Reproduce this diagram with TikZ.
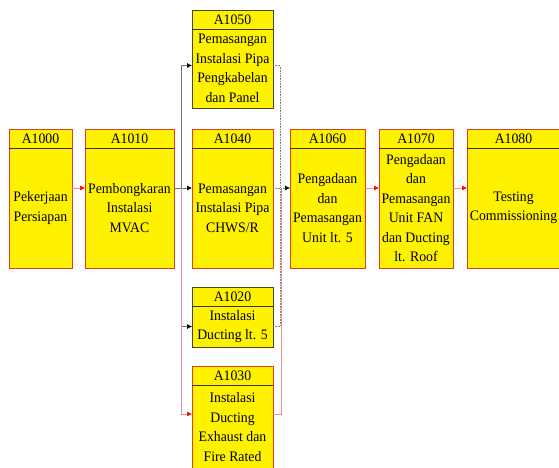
\documentclass[tikz,border=0pt]{standalone}
\usepackage{fontspec}
\setmainfont{Liberation Serif}[FakeStretch=0.95]
\usetikzlibrary{positioning,arrows.meta}

\definecolor{boxred}{RGB}{222,62,32}
\definecolor{boxdark}{RGB}{72,72,32}
\definecolor{linepink}{RGB}{236,140,150}

\begin{document}
\begin{tikzpicture}[x=1pt,y=1pt,
	node distance=0pt,
	hdr/.style={draw=#1, fill=yellow, minimum height=19pt, inner sep=0pt, outer sep=0pt},
	hdr/.default=boxred,
	bdy/.style={draw=#1, fill=yellow, align=center, inner sep=0pt, outer sep=0pt},
	bdy/.default=boxred,
	sep/.style={draw=black!80, line width=0.8pt},
	blk/.style={draw=black!55, line width=0.6pt, -{Latex[length=5pt,width=5pt,color=black]}},
	rd/.style={draw=linepink, line width=0.6pt, -{Latex[length=5pt,width=5pt,color=red]}},
	dot/.style={draw=black!50, densely dotted, line width=0.6pt},
	font=\fontsize{14.5}{19.5}\selectfont, line width=1pt
	]
	\clip (0,0) rectangle (559,-467);
	
	% main row
	\node[hdr, minimum width=63pt] (h1000) at (40.5,-138.5) {A1000};
	\node[bdy, minimum width=63pt, minimum height=120pt, below=of h1000] (a1000) {Pekerjaan\\Persiapan};
	\node[hdr, minimum width=89pt, right=13pt of h1000] (h1010) {A1010};
	\node[bdy, minimum width=89pt, minimum height=120pt, below=of h1010] (a1010) {Pembongkaran\\Instalasi\\MVAC};
	\node[hdr, minimum width=81pt, right=18pt of h1010] (h1040) {A1040};
	\node[bdy, minimum width=81pt, minimum height=120pt, below=of h1040] (a1040) {Pemasangan\\Instalasi Pipa\\CHWS/R};
	\node[hdr, minimum width=75pt, right=17pt of h1040] (h1060) {A1060};
	\node[bdy, minimum width=75pt, minimum height=120pt, below=of h1060] (a1060) {Pengadaan\\dan\\Pemasangan\\Unit lt. 5};
	\node[hdr, minimum width=74pt, right=14pt of h1060] (h1070) {A1070};
	\node[bdy, minimum width=74pt, minimum height=120pt, below=of h1070] (a1070) {Pengadaan\\dan\\Pemasangan\\Unit FAN\\dan Ducting\\lt. Roof};
	\node[hdr, minimum width=93pt, right=14pt of h1070] (h1080) {A1080};
	\node[bdy, minimum width=93pt, minimum height=120pt, below=of h1080] (a1080) {Testing\\Commissioning};
	
	% parallel column
	\node[bdy=boxdark, minimum width=81pt, minimum height=79pt, above=21pt of h1040] (a1050) {Pemasangan\\Instalasi Pipa\\Pengkabelan\\dan Panel};
	\node[hdr=boxdark, minimum width=81pt, above=of a1050] (h1050) {A1050};
	\node[hdr=boxdark, minimum width=81pt, below=19pt of a1040] (h1020) {A1020};
	\node[bdy=boxdark, minimum width=81pt, minimum height=41pt, below=of h1020] (a1020) {Instalasi\\Ducting lt. 5};
	\node[hdr, minimum width=81pt, below=19pt of a1020] (h1030) {A1030};
	\node[bdy, minimum width=81pt, minimum height=84pt, below=of h1030] (a1030) {Instalasi\\Ducting\\Exhaust dan\\Fire Rated};
	
	\draw[sep] (h1000.south west) -- (h1000.south east);
	\draw[sep] (h1010.south west) -- (h1010.south east);
	\draw[sep] (h1040.south west) -- (h1040.south east);
	\draw[sep] (h1060.south west) -- (h1060.south east);
	\draw[sep] (h1070.south west) -- (h1070.south east);
	\draw[sep] (h1080.south west) -- (h1080.south east);
	\draw[sep] (h1050.south west) -- (h1050.south east);
	\draw[sep] (h1020.south west) -- (h1020.south east);
	\draw[sep] (h1030.south west) -- (h1030.south east);
	
	% links
	\draw[rd] ([yshift=20pt]a1000.east) -- ([yshift=20pt]a1010.west);
	\draw[blk] ([yshift=20pt]a1010.east) -- ([yshift=20pt]a1040.west);
	\draw[blk] ([shift={(7pt,20pt)}]a1010.east) |- ([yshift=3pt]a1050.west);
	\draw[blk] ([shift={(7pt,20pt)}]a1010.east) |- (a1020.west);
	\draw[rd] ([shift={(7pt,20pt)}]a1010.east) |- ([yshift=13pt]a1030.west);
	
	\draw[dot] ([yshift=3pt]a1050.east) -| ([shift={(-10pt,20pt)}]a1060.west);
	\draw[dot] (a1020.east) -| ([shift={(-10pt,20pt)}]a1060.west);
	\draw[draw=linepink, line width=0.6pt] ([yshift=13pt]a1030.east) -| ([shift={(-9pt,20pt)}]a1060.west);
	\draw[dot, -{Latex[length=5pt,width=5pt,color=black]}] ([yshift=20pt]a1040.east) -- ([yshift=20pt]a1060.west);
	
	\draw[rd] ([yshift=20pt]a1060.east) -- ([yshift=20pt]a1070.west);
	\draw[rd] ([yshift=20pt]a1070.east) -- ([yshift=20pt]a1080.west);
	
\end{tikzpicture}
\end{document}
